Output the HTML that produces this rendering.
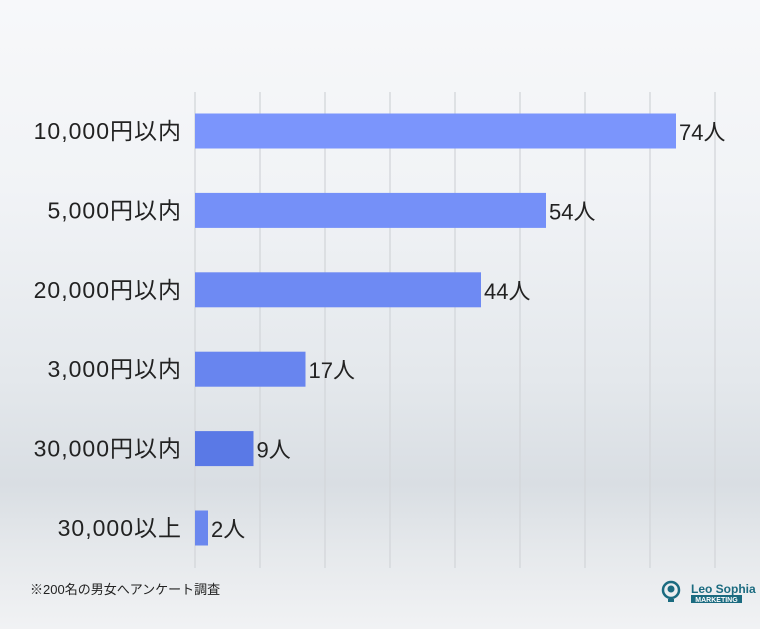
<!DOCTYPE html>
<html><head><meta charset="utf-8">
<style>
html,body{margin:0;padding:0}
body{width:760px;height:629px;overflow:hidden;font-family:"Liberation Sans","Noto Sans CJK JP",sans-serif;
background:linear-gradient(180deg,#f7f8fa 0%,#f1f3f6 30%,#e4e8ec 60%,#d9dee3 77%,#e6e9ec 88%,#f1f2f4 100%);}
svg{display:block}
</style></head><body>
<svg width="760" height="629">
<g id="grid"></g><g id="bars"></g><g id="labels"></g>
<text x="30" y="594" font-size="13" fill="#222" font-family="Liberation Sans,Noto Sans CJK JP,sans-serif">※200名の男女へアンケート調査</text>
<g>
<circle cx="671" cy="590" r="8" fill="none" stroke="#1b6b80" stroke-width="2.5"/>
<circle cx="671" cy="589" r="3.5" fill="#1b6b80"/>
<rect x="668" y="599" width="6" height="3" fill="#1b6b80"/>
<text x="691" y="593" font-size="12" font-weight="bold" fill="#1b6b80" font-family="Liberation Sans,sans-serif">Leo Sophia</text>
<rect x="691" y="595" width="51" height="8" fill="#1b6b80"/>
<text x="716.5" y="602" font-size="7" font-weight="bold" fill="#fff" text-anchor="middle" font-family="Liberation Sans,sans-serif">MARKETING</text>
</g>
</svg>
<script>
const categories=["10,000円以内","5,000円以内","20,000円以内","3,000円以内","30,000円以内","30,000以上"];
const values=[74,54,44,17,9,2];
const valueLabels=["74人","54人","44人","17人","9人","2人"];
const colors=["#7b95fc","#7590f8","#6e8af3","#6885ef","#5a79e6","#6a87ee"];
const gridTicks=[0,10,20,30,40,50,60,70,80];
const ns="http://www.w3.org/2000/svg";
const x=v=>195+v*6.5;
const y=i=>131+i*79.4;
const G=document.getElementById('grid'),B=document.getElementById('bars'),L=document.getElementById('labels');
function mk(t,a,p){const e=document.createElementNS(ns,t);for(const k in a)e.setAttribute(k,a[k]);p.appendChild(e);return e;}
gridTicks.forEach(t=>{const l=mk('line',{x1:x(t),x2:x(t),y1:92,y2:568,stroke:'#d3d6da','stroke-width':1.3},G);

});
categories.forEach((c,i)=>{
const r=mk('rect',{x:x(0),y:y(i)-17.5,width:x(values[i])-x(0),height:35,fill:colors[i]},B);


const t=mk('text',{x:182,y:y(i)+8,'font-size':23,'letter-spacing':1,fill:'#222','text-anchor':'end'},L);t.textContent=c;


const v=mk('text',{x:x(values[i])+3,y:y(i)+9,'font-size':22,fill:'#222'},L);v.textContent=valueLabels[i];


});
</script>
</body></html>
